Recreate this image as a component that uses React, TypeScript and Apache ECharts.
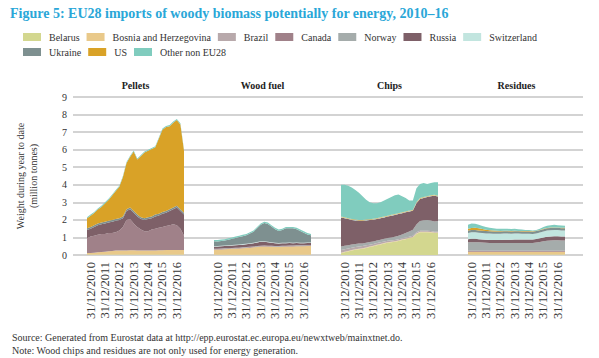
import React, { useEffect, useRef } from "react";
import * as echarts from "echarts";

const dates = [
  "30/09/2010", "31/12/2010", "31/03/2011", "30/06/2011", "30/09/2011", "31/12/2011",
  "31/03/2012", "30/06/2012", "30/09/2012", "31/12/2012", "31/03/2013", "30/06/2013",
  "30/09/2013", "31/12/2013", "31/03/2014", "30/06/2014", "30/09/2014", "31/12/2014",
  "31/03/2015", "30/06/2015", "30/09/2015", "31/12/2015", "31/03/2016", "30/06/2016",
  "30/09/2016", "31/12/2016", "31/03/2017", "30/06/2017",
];

const countries = ["Belarus", "Bosnia and Herzegovina", "Brazil", "Canada", "Norway", "Russia", "Switzerland", "Ukraine", "US", "Other non EU28"];
const legendRow1 = ["Belarus", "Bosnia and Herzegovina", "Brazil", "Canada", "Norway", "Russia", "Switzerland"];
const legendRow2 = ["Ukraine", "US", "Other non EU28"];
const panelTitles = ["Pellets", "Wood fuel", "Chips", "Residues"];
const yTicks = [0, 1, 2, 3, 4, 5, 6, 7, 8, 9];

// Pellets (million tonnes)
const pelletsBelarus = [0.03,0.03,0.03,0.03,0.03,0.03,0.03,0.03,0.03,0.03,0.03,0.03,0.03,0.03,0.03,0.03,0.03,0.03,0.03,0.03,0.03,0.03,0.03,0.03,0.03,0.03,0.03,0.03];
const pelletsBosnia = [0.08,0.09,0.1,0.12,0.14,0.16,0.18,0.2,0.22,0.22,0.23,0.23,0.24,0.24,0.23,0.22,0.22,0.22,0.23,0.23,0.24,0.24,0.25,0.25,0.25,0.26,0.26,0.26];
const pelletsCanada = [0.84,0.93,0.97,1.0,1.03,1.01,1.04,1.02,1.05,1.15,1.34,1.74,1.78,1.53,1.34,1.2,1.1,1.1,1.19,1.24,1.28,1.33,1.37,1.42,1.47,1.41,1.21,0.81];
const pelletsRussia = [0.47,0.45,0.5,0.55,0.55,0.6,0.6,0.65,0.65,0.6,0.5,0.5,0.55,0.6,0.6,0.6,0.65,0.7,0.65,0.7,0.7,0.75,0.75,0.8,0.85,1.0,1.0,1.2];
const pelletsUkraine = [0.1,0.1,0.1,0.1,0.1,0.1,0.1,0.1,0.1,0.1,0.1,0.1,0.1,0.1,0.1,0.1,0.1,0.1,0.1,0.1,0.1,0.1,0.1,0.1,0.1,0.1,0.1,0.1];
const pelletsUS = [0.57,0.64,0.69,0.79,0.89,1.04,1.19,1.39,1.59,1.79,2.24,2.64,2.89,3.39,3.14,3.49,3.74,3.79,3.84,3.84,4.29,4.69,4.79,4.74,4.84,4.89,4.84,3.54];
const pelletsOther = [0.06,0.06,0.06,0.06,0.06,0.06,0.06,0.06,0.06,0.06,0.06,0.06,0.06,0.06,0.06,0.06,0.06,0.06,0.06,0.06,0.06,0.06,0.06,0.06,0.06,0.06,0.06,0.06];

// Wood fuel
const woodBelarus = [0.02,0.02,0.02,0.02,0.02,0.02,0.02,0.02,0.02,0.02,0.02,0.02,0.02,0.02,0.02,0.02,0.02,0.02,0.02,0.02,0.02,0.02,0.02,0.02,0.02,0.02,0.02,0.02];
const woodBosnia = [0.28,0.29,0.3,0.31,0.32,0.33,0.34,0.35,0.37,0.38,0.4,0.42,0.44,0.46,0.47,0.46,0.45,0.44,0.44,0.45,0.46,0.47,0.47,0.48,0.48,0.48,0.49,0.49];
const woodCanada = [0.03,0.03,0.03,0.03,0.03,0.03,0.03,0.03,0.03,0.03,0.03,0.03,0.03,0.03,0.03,0.03,0.03,0.03,0.03,0.03,0.03,0.03,0.03,0.03,0.03,0.03,0.03,0.03];
const woodNorway = [0.02,0.02,0.02,0.02,0.02,0.02,0.02,0.02,0.02,0.02,0.02,0.02,0.02,0.02,0.02,0.02,0.02,0.02,0.02,0.02,0.02,0.02,0.02,0.02,0.02,0.02,0.02,0.02];
const woodRussia = [0.12,0.12,0.13,0.13,0.13,0.14,0.14,0.15,0.15,0.16,0.17,0.18,0.2,0.22,0.22,0.2,0.18,0.16,0.15,0.15,0.14,0.14,0.13,0.13,0.12,0.12,0.12,0.12];
const woodSwitzerland = [0.03,0.03,0.03,0.03,0.03,0.03,0.03,0.03,0.03,0.03,0.03,0.03,0.03,0.03,0.03,0.03,0.03,0.03,0.03,0.03,0.03,0.03,0.03,0.03,0.03,0.03,0.03,0.03];
const woodUkraine = [0.28,0.26,0.27,0.28,0.32,0.35,0.39,0.42,0.45,0.48,0.55,0.62,0.78,0.94,1.03,1.01,0.89,0.77,0.68,0.72,0.82,0.81,0.82,0.76,0.67,0.57,0.46,0.41];
const woodOther = [0.08,0.08,0.08,0.08,0.08,0.08,0.08,0.08,0.08,0.08,0.08,0.08,0.08,0.08,0.08,0.08,0.08,0.08,0.08,0.08,0.08,0.08,0.08,0.08,0.08,0.08,0.08,0.08];

// Chips
const chipsBelarus = [0.1,0.15,0.2,0.25,0.3,0.33,0.36,0.4,0.45,0.5,0.55,0.6,0.65,0.7,0.72,0.75,0.8,0.85,0.9,0.95,1.0,1.2,1.3,1.3,1.3,1.28,1.25,1.25];
const chipsBosnia = [0.03,0.03,0.03,0.03,0.03,0.03,0.03,0.03,0.03,0.03,0.03,0.03,0.03,0.03,0.03,0.03,0.03,0.03,0.03,0.03,0.03,0.03,0.03,0.03,0.03,0.03,0.03,0.03];
const chipsBrazil = [0.15,0.15,0.14,0.14,0.13,0.13,0.12,0.12,0.11,0.1,0.1,0.09,0.09,0.08,0.08,0.08,0.07,0.07,0.07,0.06,0.06,0.06,0.05,0.05,0.05,0.05,0.05,0.05];
const chipsNorway = [0.2,0.2,0.19,0.18,0.17,0.16,0.15,0.15,0.15,0.14,0.14,0.15,0.15,0.16,0.17,0.18,0.2,0.22,0.25,0.3,0.35,0.45,0.55,0.6,0.62,0.6,0.58,0.6];
const chipsRussia = [1.66,1.57,1.49,1.4,1.34,1.3,1.29,1.27,1.25,1.24,1.23,1.23,1.22,1.22,1.24,1.24,1.23,1.21,1.18,1.14,1.08,1.21,1.26,1.27,1.3,1.39,1.47,1.4];
const chipsSwitzerland = [0.02,0.02,0.02,0.02,0.02,0.02,0.02,0.02,0.02,0.02,0.02,0.02,0.02,0.02,0.02,0.02,0.02,0.02,0.02,0.02,0.02,0.02,0.02,0.02,0.02,0.02,0.02,0.02];
const chipsUS = [0.03,0.03,0.03,0.03,0.03,0.03,0.03,0.03,0.03,0.03,0.03,0.03,0.03,0.03,0.03,0.03,0.03,0.03,0.03,0.03,0.03,0.03,0.03,0.03,0.03,0.03,0.03,0.03];
const chipsOther = [1.81,1.85,1.85,1.8,1.68,1.55,1.35,1.13,0.96,0.89,0.85,0.85,0.91,0.96,1.01,1.07,1.07,0.92,0.77,0.57,0.53,0.8,0.81,0.8,0.7,0.7,0.72,0.77];

// Residues
const resBelarus = [0.03,0.03,0.03,0.03,0.03,0.03,0.03,0.03,0.03,0.03,0.03,0.03,0.03,0.03,0.03,0.03,0.03,0.03,0.03,0.03,0.03,0.03,0.03,0.03,0.03,0.03,0.03,0.03];
const resBosnia = [0.15,0.15,0.15,0.15,0.15,0.15,0.15,0.15,0.15,0.15,0.15,0.15,0.15,0.15,0.15,0.15,0.15,0.15,0.15,0.15,0.15,0.15,0.15,0.15,0.15,0.15,0.15,0.15];
const resCanada = [0.06,0.06,0.06,0.06,0.06,0.06,0.06,0.06,0.06,0.06,0.06,0.06,0.06,0.06,0.06,0.06,0.06,0.06,0.06,0.06,0.06,0.06,0.06,0.06,0.06,0.06,0.06,0.06];
const resNorway = [0.48,0.49,0.49,0.48,0.47,0.46,0.45,0.45,0.45,0.45,0.45,0.45,0.45,0.45,0.45,0.45,0.45,0.45,0.45,0.47,0.5,0.54,0.57,0.59,0.6,0.6,0.59,0.59];
const resRussia = [0.18,0.19,0.19,0.18,0.18,0.17,0.17,0.17,0.17,0.17,0.18,0.18,0.18,0.19,0.19,0.19,0.19,0.19,0.19,0.2,0.21,0.22,0.23,0.23,0.23,0.23,0.22,0.22];
const resSwitzerland = [0.36,0.37,0.37,0.37,0.36,0.36,0.36,0.35,0.35,0.35,0.35,0.35,0.34,0.34,0.34,0.33,0.33,0.33,0.32,0.32,0.33,0.34,0.35,0.35,0.35,0.35,0.35,0.35];
const resUkraine = [0.13,0.13,0.13,0.13,0.13,0.13,0.13,0.13,0.13,0.13,0.13,0.13,0.13,0.13,0.13,0.13,0.13,0.13,0.13,0.13,0.13,0.13,0.13,0.13,0.13,0.13,0.13,0.13];
const resUS = [0.1,0.12,0.13,0.12,0.1,0.08,0.06,0.05,0.04,0.03,0.03,0.03,0.03,0.03,0.02,0.02,0.02,0.02,0.02,0.02,0.02,0.02,0.02,0.02,0.02,0.02,0.02,0.02];
const resOther = [0.23,0.26,0.23,0.2,0.17,0.16,0.14,0.13,0.12,0.13,0.11,0.12,0.11,0.11,0.09,0.09,0.07,0.06,0.05,0.04,0.07,0.11,0.12,0.14,0.15,0.13,0.13,0.11];

const panels: Record<string, number[]>[] = [
  { "Belarus": pelletsBelarus, "Bosnia and Herzegovina": pelletsBosnia, "Canada": pelletsCanada, "Russia": pelletsRussia, "Ukraine": pelletsUkraine, "US": pelletsUS, "Other non EU28": pelletsOther },
  { "Belarus": woodBelarus, "Bosnia and Herzegovina": woodBosnia, "Canada": woodCanada, "Norway": woodNorway, "Russia": woodRussia, "Switzerland": woodSwitzerland, "Ukraine": woodUkraine, "Other non EU28": woodOther },
  { "Belarus": chipsBelarus, "Bosnia and Herzegovina": chipsBosnia, "Brazil": chipsBrazil, "Norway": chipsNorway, "Russia": chipsRussia, "Switzerland": chipsSwitzerland, "US": chipsUS, "Other non EU28": chipsOther },
  { "Belarus": resBelarus, "Bosnia and Herzegovina": resBosnia, "Canada": resCanada, "Norway": resNorway, "Russia": resRussia, "Switzerland": resSwitzerland, "Ukraine": resUkraine, "US": resUS, "Other non EU28": resOther },
];

const colors: Record<string, string> = {
  "Belarus": "#d3d78f",
  "Bosnia and Herzegovina": "#e9c98a",
  "Brazil": "#b8a9ab",
  "Canada": "#a08189",
  "Norway": "#a5acab",
  "Russia": "#7e6068",
  "Switzerland": "#c2e5df",
  "Ukraine": "#7e9090",
  "US": "#d9a227",
  "Other non EU28": "#80ccbe",
};

const SERIF = '"Liberation Serif", "Times New Roman", serif';
const panelLefts = [87, 214, 341, 468];
const panelWidth = 97;
const plotTop = 97;
const plotHeight = 158;

export default function App() {
  const ref = useRef<HTMLDivElement>(null);
  useEffect(() => {
    if (!ref.current) return;
    const chart = echarts.init(ref.current, null, { renderer: "svg" });

    const grids: any[] = [{ left: 73, right: 16, top: plotTop, height: plotHeight }];
    const xAxes: any[] = [{ type: "value", gridIndex: 0, min: 0, max: 1, show: false }];
    const yAxes: any[] = [{
      type: "value", gridIndex: 0, min: yTicks[0], max: yTicks[yTicks.length - 1], interval: 1,
      axisLine: { show: false }, axisTick: { show: false },
      axisLabel: { fontFamily: SERIF, fontSize: 10, color: "#333", margin: 6 },
      splitLine: { lineStyle: { color: "#c4c4c4", width: 1.5 } },
    }];
    const series: any[] = [];

    panels.forEach((panel, i) => {
      const gi = i + 1;
      grids.push({ left: panelLefts[i], width: panelWidth, top: plotTop, height: plotHeight });
      xAxes.push({
        type: "category", gridIndex: gi, data: dates, boundaryGap: false,
        axisLine: { show: false }, axisTick: { show: false }, splitLine: { show: false },
        axisLabel: {
          interval: (_idx: number, val: string) => val.startsWith("31/12"),
          rotate: 90, fontFamily: SERIF, fontSize: 12.5, color: "#333", margin: 7,
        },
      });
      yAxes.push({ type: "value", gridIndex: gi, min: 0, max: 9, show: false });
      countries.forEach((c) => {
        const d = panel[c];
        if (!d) return;
        series.push({
          type: "line", name: c, xAxisIndex: gi, yAxisIndex: gi, stack: "panel" + i,
          data: d, symbol: "none", color: colors[c],
          lineStyle: { width: 0 }, areaStyle: { color: colors[c], opacity: 1 },
          emphasis: { disabled: true }, silent: true,
        });
      });
    });

    const legendCommon = {
      left: 18, itemWidth: 18, itemHeight: 8, itemGap: 7, icon: "rect",
      textStyle: { fontFamily: SERIF, fontSize: 10, color: "#333", padding: [0, 0, 0, 3] },
      selectedMode: false,
    };

    const panelTitleGraphics = panelTitles.map((t, i) => ({
      type: "text", x: panelLefts[i] + panelWidth / 2, y: 85,
      style: { text: t, textAlign: "center", textVerticalAlign: "middle", font: `bold 10px ${SERIF}`, fill: "#222" },
    }));

    chart.setOption({
      animation: false,
      backgroundColor: "#fff",
      legend: [
        { ...legendCommon, top: 27, data: legendRow1 },
        { ...legendCommon, top: 42, data: legendRow2 },
      ],
      grid: grids,
      xAxis: xAxes,
      yAxis: yAxes,
      series,
      graphic: [
        { type: "text", left: 10, top: 6, style: { text: "Figure 5: EU28 imports of woody biomass potentially for energy, 2010–16", font: `bold 14px ${SERIF}`, fill: "#2aa7d8" } },
        { type: "text", x: 27, y: 176, rotation: Math.PI / 2, style: { text: "Weight during year to date\n(million tonnes)", textAlign: "center", textVerticalAlign: "middle", font: `10px ${SERIF}`, lineHeight: 13, fill: "#333" } },
        ...panelTitleGraphics,
        { type: "text", x: 12, y: 337, style: { text: "Source: Generated from Eurostat data at http://epp.eurostat.ec.europa.eu/newxtweb/mainxtnet.do.", textVerticalAlign: "middle", font: `10px ${SERIF}`, fill: "#333" } },
        { type: "text", x: 12, y: 350, style: { text: "Note: Wood chips and residues are not only used for energy generation.", textVerticalAlign: "middle", font: `10px ${SERIF}`, fill: "#333" } },
      ],
    });
    return () => chart.dispose();
  }, []);
  return <div ref={ref} style={{ position: "absolute", left: 0, top: 0, width: 599, height: 358 }} />;
}
